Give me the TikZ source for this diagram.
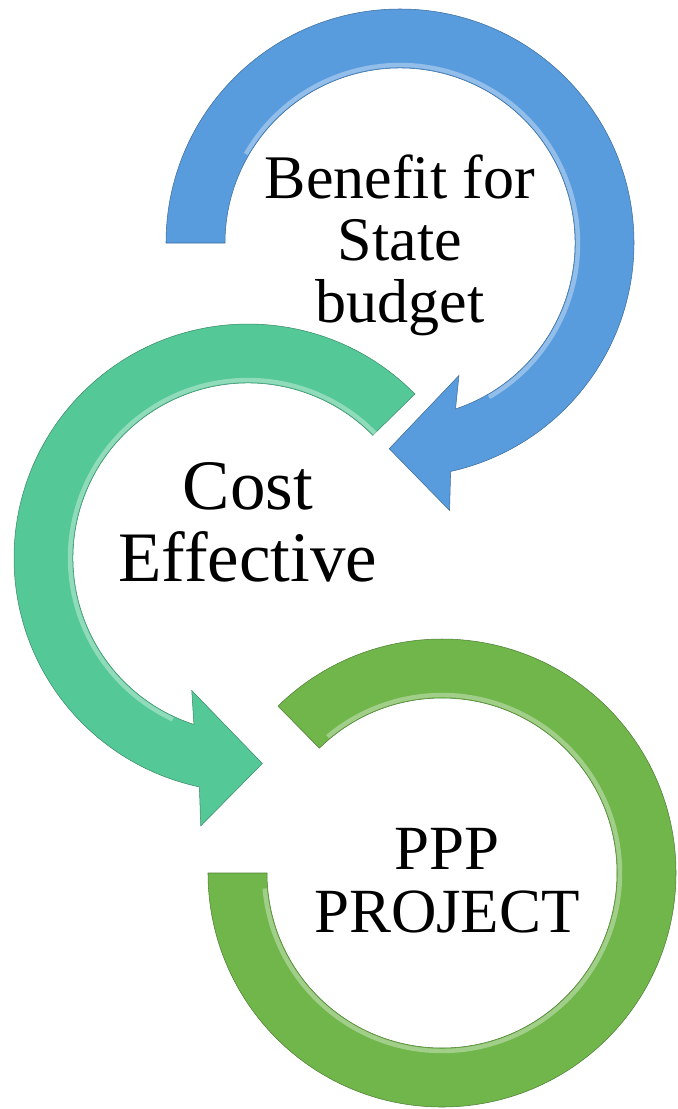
\documentclass[tikz,border=0pt]{standalone}
\usepackage{fontspec}
\setmainfont{Liberation Serif}
\usepackage{tikz}
\usetikzlibrary{calc}
\definecolor{arrowblue}{RGB}{88,156,222}
\definecolor{arrowteal}{RGB}{84,200,150}
\definecolor{arrowgreen}{RGB}{112,182,74}
\tikzset{
	ringblue/.style={fill=arrowblue,draw=arrowblue!70!black,line width=.3pt},
	ringteal/.style={fill=arrowteal,draw=arrowteal!70!black,line width=.3pt},
	ringgreen/.style={fill=arrowgreen,draw=arrowgreen!70!black,line width=.3pt},
	shine/.style={draw=white,opacity=.35,line width=2.5pt}, % light rim on the inner edge
	ringtext/.style={align=center,inner sep=0pt,text=black}
}

\begin{document}
\begin{tikzpicture}[x=0.02cm,y=0.02cm]
	% size of the picture (px of the reference)
	\useasboundingbox (0,0) rectangle (677,-1109);
	% radii of the rings
	\def\rin{175}
	\def\rout{234}
	% centres of the rings
	\coordinate (blue) at (400,-243);
	\coordinate (teal) at (248,-558);
	\coordinate (green) at (442,-873);

	% blue arrow, clockwise from the left
	\filldraw[ringblue] ($(blue)+(180:\rin)$) -- ($(blue)+(180:\rout)$)
		arc[start angle=180,end angle=-77.5,radius=\rout]
		-- ($(blue)+(-79.5:272)$) -- ($(blue)+(-93:206)$) -- ($(blue)+(-66:145)$)
		-- ($(blue)+(-71.5:\rin)$) arc[start angle=-71.5,end angle=180,radius=\rin] -- cycle;
	\draw[shine] ($(blue)+(150:178)$) arc[start angle=150,end angle=-60,radius=178];

	% teal arrow, counter clockwise from the top right
	\filldraw[ringteal] ($(teal)+(44.5:\rin)$) -- ($(teal)+(44.5:\rout)$)
		arc[start angle=44.5,end angle=258,radius=\rout]
		-- ($(teal)+(260:272)$) -- ($(teal)+(274:206)$) -- ($(teal)+(247:144)$)
		-- ($(teal)+(252:\rin)$) arc[start angle=252,end angle=44.5,radius=\rin] -- cycle;
	\draw[shine] ($(teal)+(40:178)$) arc[start angle=40,end angle=245,radius=178];

	% green ring, no head
	\filldraw[ringgreen] ($(green)+(180:\rin)$) -- ($(green)+(180:\rout)$)
		arc[start angle=180,end angle=494.5,radius=\rout]
		-- ($(green)+(134.5:\rin)$) arc[start angle=494.5,end angle=180,radius=\rin] -- cycle;
	\draw[shine] ($(green)+(185:178)$) arc[start angle=185,end angle=490,radius=178];

	% texts
	\node[ringtext,font=\fontsize{35.3}{35.3}\selectfont] (benefit) at (400,-245) {Benefit for\\State\\budget};
	\node[ringtext,font=\fontsize{40.4}{41}\selectfont] (cost) at (248,-522) {Cost\\Effective};
	\node[ringtext,font=\fontsize{35.8}{35.8}\selectfont] (ppp) at (447,-881) {PPP\\PROJECT};
\end{tikzpicture}
\end{document}
